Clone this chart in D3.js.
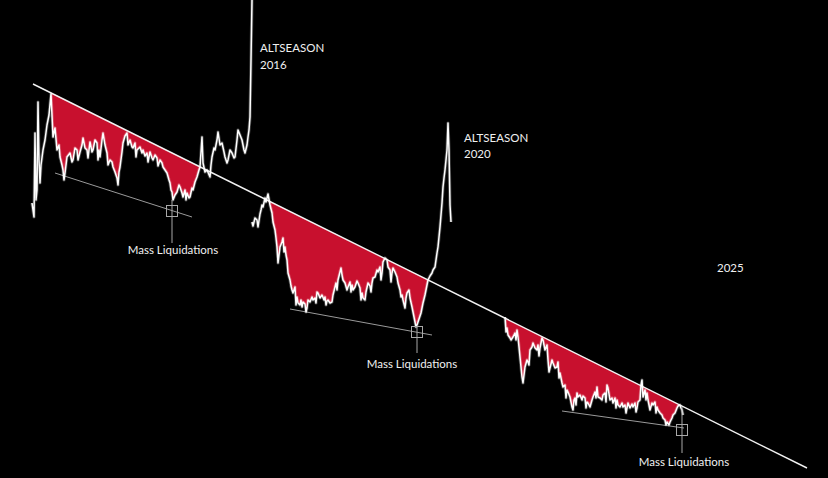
<!DOCTYPE html>
<html><head><meta charset="utf-8">
<script src="https://cdn.jsdelivr.net/npm/d3@7"></script>
<style>html,body{margin:0;padding:0;background:#000;}svg{display:block;}</style>
</head><body>
<svg id="c" width="828" height="478"></svg>
<script>
// ---- data (x = time position, v = price level) ----
const trendLine = [[33,394],[807,10]];
const cycle2016 = [[32,275],[34,261],[35,345],[36,278],[37,288],[38,376],[39,318],[40,295],[41,313],[43,328],[45,338],[47,353],[49,363],[51,384],[53,341],[55,350],[57,328],[59,333],[60,321],[62,313],[63,308],[64,298],[65,305],[67,321],[70,325],[72,316],[73,318],[75,330],[77,328],[78,318],[80,326],[82,333],[83,340],[85,330],[87,328],[88,320],[90,336],[92,326],[93,328],[95,338],[97,335],[98,318],[99,328],[100,321],[102,338],[103,345],[105,333],[107,325],[108,313],[110,318],[112,316],[113,311],[115,306],[117,300],[118,293],[119,306],[120,311],[122,326],[123,335],[125,342],[127,345],[128,333],[130,338],[132,331],[133,330],[135,335],[136,321],[137,328],[140,331],[142,325],[143,328],[145,322],[147,325],[148,316],[150,326],[152,320],[153,318],[155,323],[157,320],[158,312],[160,318],[162,315],[163,311],[165,308],[167,305],[169,298],[170,295],[171,288],[172,286],[173,278],[175,283],[177,286],[179,293],[180,291],[182,285],[183,281],[185,288],[186,278],[187,285],[189,280],[190,281],[192,290],[193,288],[195,296],[197,301],[199,308],[200,311],[202,341],[203,315],[205,306],[207,308],[210,301],[211,313],[212,321],[214,330],[215,328],[217,338],[218,346],[220,333],[222,335],[224,326],[225,321],[227,315],[228,318],[230,328],[232,325],[234,320],[235,321],[237,338],[238,348],[240,343],[242,338],[244,328],[245,325],[247,333],[248,341],[249,348],[250,361],[251,418],[252,478]];
const cycle2020 = [[252,256],[253,252],[255,260],[257,258],[258,251],[260,264],[261,268],[262,273],[263,271],[265,280],[266,276],[268,284],[270,273],[272,265],[273,256],[275,248],[276,240],[277,231],[278,215],[279,223],[280,231],[282,236],[283,240],[284,226],[285,231],[286,223],[287,218],[288,205],[290,198],[291,192],[292,188],[293,185],[295,191],[296,173],[297,181],[298,175],[300,173],[301,178],[302,171],[303,176],[305,174],[306,166],[307,170],[308,178],[310,176],[312,181],[313,178],[315,180],[316,175],[317,186],[318,185],[320,180],[322,183],[324,178],[325,181],[326,173],[327,177],[328,178],[330,175],[332,176],[333,183],[335,191],[336,195],[337,188],[338,198],[340,206],[341,210],[342,203],[343,198],[345,195],[347,188],[348,191],[350,196],[351,186],[352,193],[353,188],[355,191],[357,197],[358,195],[360,190],[361,178],[362,185],[363,180],[365,178],[366,186],[368,195],[370,192],[371,186],[372,195],[373,200],[375,201],[377,208],[378,206],[380,211],[381,198],[382,205],[383,216],[385,220],[387,218],[388,211],[390,208],[391,196],[392,205],[393,210],[395,206],[397,201],[398,195],[400,188],[401,181],[402,183],[403,178],[405,170],[406,180],[407,185],[409,188],[410,180],[412,171],[413,166],[414,161],[416,151],[417,153],[418,156],[420,162],[421,165],[423,175],[425,183],[426,188],[428,198],[430,202],[432,205],[433,208],[435,211],[437,225],[438,231],[440,251],[442,275],[443,291],[444,300],[445,308],[446,318],[447,328],[448,355],[449,328],[450,273],[451,256]];
const cycle2025 = [[505,161],[506,146],[507,150],[508,143],[510,140],[511,138],[513,141],[515,145],[516,138],[517,148],[518,141],[520,121],[521,111],[522,101],[523,95],[524,103],[525,111],[527,118],[528,116],[529,113],[530,128],[532,131],[533,135],[535,130],[537,128],[538,133],[539,122],[540,130],[542,140],[543,138],[545,128],[547,133],[548,118],[549,106],[550,110],[552,118],[553,115],[555,110],[557,111],[558,116],[559,100],[560,105],[562,95],[563,91],[565,93],[566,80],[567,88],[568,86],[570,81],[572,71],[573,68],[574,78],[575,80],[576,73],[577,85],[578,81],[580,83],[582,78],[583,82],[585,80],[586,70],[587,76],[588,75],[590,71],[592,78],[593,81],[595,86],[596,80],[597,91],[598,81],[600,80],[602,78],[603,83],[605,85],[606,76],[607,93],[608,90],[610,78],[612,80],[613,75],[615,80],[616,70],[617,78],[618,73],[620,71],[622,75],[623,71],[625,73],[626,65],[627,70],[628,75],[630,70],[632,74],[633,71],[635,75],[636,66],[637,70],[638,76],[640,78],[641,93],[642,98],[643,81],[645,88],[646,78],[647,85],[648,78],[650,68],[652,75],[653,73],[655,76],[656,65],[657,71],[658,68],[660,65],[662,63],[663,60],[665,58],[666,53],[667,56],[669,53],[670,56],[672,60],[673,63],[675,65],[677,70],[678,72],[680,73],[681,70],[682,68],[683,63]];
const cycles = [cycle2016, cycle2020, cycle2025];
const redRanges = [[51,200],[268,430],[505,680]];
const supportLines = [[[55,305],[192,261]],[[290,169],[432,143]],[[562,67],[684,50]]];
const liquidations = [[172,267],[417,146],[682,48]];
const liqStems = [[[172,278],[172,235]],[[417,151],[417,125]],[[682,71],[682,25]]];
const liqLabels = [[173,224,"Mass Liquidations"],[412,110,"Mass Liquidations"],[684,12,"Mass Liquidations"]];
const seasonLabels = [[260,426,"ALTSEASON"],[260,409,"2016"],[464,336,"ALTSEASON"],[464,320,"2020"],[717,206,"2025"]];

// ---- scales ----
const W = 828, H = 478;
const x = d3.scaleLinear().domain([0, 828]).range([0, W]);
const y = d3.scaleLinear().domain([0, 478]).range([H, 0]);
const trendAt = d3.scaleLinear().domain([trendLine[0][0], trendLine[1][0]]).range([trendLine[0][1], trendLine[1][1]]);

const svg = d3.select("#c");
svg.append("rect").attr("width", W).attr("height", H).attr("fill", "#000");

const line = d3.line().x(d => x(d[0])).y(d => y(d[1]));
const area = d3.area()
  .x(d => x(d[0]))
  .y0(d => y(trendAt(d[0])))
  .y1(d => y(Math.min(d[1], trendAt(d[0]))));

// red fills
cycles.forEach((c, i) => {
  const [a, b] = redRanges[i];
  svg.append("path")
    .datum(c.filter(d => d[0] >= a && d[0] <= b))
    .attr("d", area)
    .attr("fill", "#c8102e");
});

// support lines
supportLines.forEach(s => {
  svg.append("path").datum(s).attr("d", line)
    .attr("stroke", "#9a9a9a").attr("stroke-width", 1).attr("fill", "none");
});

// trend line
svg.append("path").datum(trendLine).attr("d", line)
  .attr("stroke", "#f2f2f2").attr("stroke-width", 1.4).attr("fill", "none");

// price glow + line
cycles.forEach(c => {
  svg.append("path").datum(c).attr("d", line)
    .attr("stroke", "#ffffff").attr("stroke-opacity", 0.25).attr("stroke-width", 3.2)
    .attr("stroke-linejoin", "round").attr("fill", "none");
  svg.append("path").datum(c).attr("d", line)
    .attr("stroke", "#ffffff").attr("stroke-width", 1.5)
    .attr("stroke-linejoin", "round").attr("fill", "none");
});

// liquidation markers
liqStems.forEach(s => {
  svg.append("path").datum(s).attr("d", line)
    .attr("stroke", "#a8a8a8").attr("stroke-width", 1).attr("fill", "none");
});
liquidations.forEach(p => {
  svg.append("rect")
    .attr("x", x(p[0]) - 5.5).attr("y", y(p[1]) - 5.5)
    .attr("width", 11).attr("height", 11)
    .attr("fill", "none").attr("stroke", "#a8a8a8").attr("stroke-width", 1);
});

const font = "Lato, 'Open Sans', sans-serif";
liqLabels.forEach(l => {
  svg.append("text").attr("x", x(l[0])).attr("y", y(l[1]))
    .attr("text-anchor", "middle").attr("fill", "#f0f0f0")
    .attr("font-family", font).attr("font-size", 11.5).text(l[2]);
});
seasonLabels.forEach(l => {
  svg.append("text").attr("x", x(l[0])).attr("y", y(l[1]))
    .attr("fill", "#f0f0f0")
    .attr("font-family", font).attr("font-size", 11.5).text(l[2]);
});
</script>
</body></html>
